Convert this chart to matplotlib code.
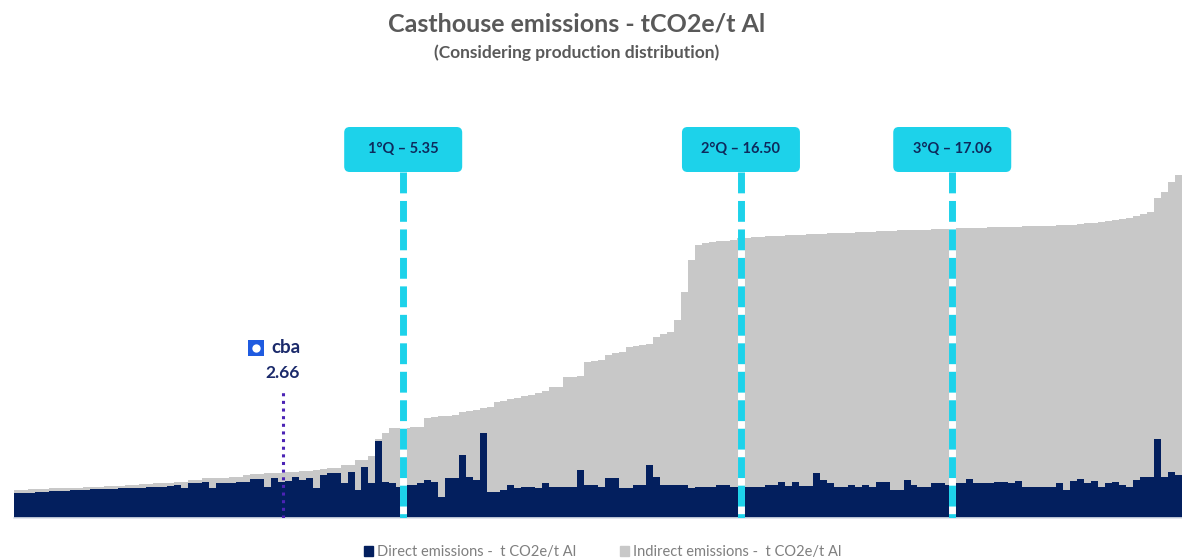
# -*- coding: utf-8 -*-
#
# Casthouse emissions curve, direct + indirect, sorted by plant
#
import numpy as np
import matplotlib
matplotlib.use('Agg')
import matplotlib.pyplot as plt
from matplotlib.patches import Patch, FancyBboxPatch

plt.rcParams['font.family'] = ['Lato', 'DejaVu Sans']

# Direct emissions per plant (t CO2e/t Al), sorted by total
direct = [1.47, 1.47, 1.50, 1.53, 1.53, 1.56,
          1.59, 1.59, 1.62, 1.65, 1.65, 1.68, 1.68,
          1.71, 1.71, 1.74, 1.76, 1.76, 1.79, 1.82,
          1.82, 1.85, 1.88, 1.94, 1.76, 2.06, 2.06,
          2.12, 1.76, 2.06, 2.06, 2.06, 2.12, 2.12, 2.29, 2.29,
          1.82, 2.35, 2.12, 2.18, 2.41, 2.24, 2.35, 1.76, 2.53, 2.65,
          2.65, 2.06, 2.71, 1.65, 3.00, 2.06, 4.53, 2.12, 2.06, 1.82,
          1.94, 1.94, 2.06, 2.24, 2.12, 1.24, 2.35, 2.35, 3.71, 2.41, 2.24, 5.00,
          1.53, 1.53, 1.65, 1.94, 1.76, 1.82, 1.82, 1.76, 2.06, 1.82, 1.82, 1.82, 1.82,
          2.82, 1.94, 1.94, 1.82, 2.35, 2.35, 1.76, 1.76, 1.94, 1.94, 3.12, 2.41,
          1.94, 1.94, 1.94, 1.94, 1.76, 1.82, 1.82, 1.82, 1.94, 1.94, 1.82, 1.82,
          1.82, 1.82, 1.82, 1.94, 1.94, 2.12, 1.88, 2.12, 1.88, 1.88, 2.65, 2.24, 2.06,
          1.82, 1.82, 1.94, 1.82, 1.94, 1.82, 2.12, 2.12, 1.65, 1.65, 2.24, 1.94,
          1.82, 1.82, 2.06, 2.06,
          1.94, 2.06, 2.06, 2.29, 2.06, 2.06, 2.06, 2.12, 2.12, 2.06, 2.18,
          1.82, 1.82, 1.82, 1.82, 1.82,
          2.06, 1.65, 2.18, 2.29, 2.06, 2.18, 1.82, 2.06, 2.12, 1.94, 1.82, 2.24,
          2.41, 2.41, 4.65, 2.41, 2.71, 2.53]

# Total emissions per plant (direct + indirect)
total = [1.65, 1.65, 1.68, 1.71, 1.71, 1.74,
         1.74, 1.76, 1.76, 1.79, 1.82, 1.82, 1.85,
         1.88, 1.88, 1.91, 1.94, 1.97, 2.00, 2.00,
         2.03, 2.06, 2.06, 2.09, 2.12, 2.24, 2.24,
         2.35, 2.35, 2.38, 2.38, 2.41, 2.41, 2.53, 2.56, 2.59,
         2.62, 2.65, 2.65, 2.71, 2.71, 2.74, 2.76, 2.82, 2.88, 2.94,
         2.94, 3.12, 3.12, 3.41, 3.41, 3.65, 4.65, 5.00, 5.29, 5.29,
         5.29, 5.35, 5.35, 5.88, 5.94, 6.00, 6.00, 6.06, 6.24, 6.29, 6.35, 6.47,
         6.53, 6.82, 6.88, 7.00, 7.06, 7.18, 7.24, 7.35, 7.47, 7.71, 7.71, 8.29, 8.29,
         8.35, 9.18, 9.24, 9.29, 9.59, 9.71, 9.76, 10.06, 10.12, 10.18, 10.24, 10.65,
         10.82, 10.94, 11.65, 13.29, 15.18, 16.06, 16.18, 16.24, 16.29, 16.29, 16.35, 16.47,
         16.47, 16.53, 16.53, 16.56, 16.59, 16.59, 16.62, 16.65, 16.65, 16.68, 16.71, 16.71, 16.74,
         16.76, 16.76, 16.79, 16.82, 16.82, 16.85, 16.88, 16.88, 16.91, 16.94, 16.94, 16.94,
         16.97, 16.97, 17.00, 17.00,
         17.00, 17.03, 17.03, 17.06, 17.06, 17.06, 17.09, 17.09, 17.12, 17.12, 17.12,
         17.15, 17.15, 17.18, 17.18, 17.18,
         17.21, 17.24, 17.26, 17.29, 17.35, 17.38, 17.41, 17.47, 17.53, 17.59, 17.65, 17.76,
         17.88, 18.00, 18.82, 19.18, 19.76, 20.18]

# Quartiles (position along the production curve, value)
q_labels = ['1°Q – 5.35', '2°Q – 16.50', '3°Q – 17.06']
q_pos = [55.5, 104.1, 134.5]

# CBA marker
cba_pos = 38.2
cba_value = '2.66'

navy = '#031F5E'
grey = '#C8C8C8'
cyan = '#1DD2EA'
purple = '#4B23B5'

direct = np.array(direct)
total = np.array(total)
indirect = total - direct
idx = np.arange(len(direct))

fig = plt.figure(figsize=(11.82, 5.60), dpi=100)
ax = fig.add_axes([14/1182., 42/560., 1168/1182., 518/560.])

ax.bar(idx, direct, width=1.0, color=navy, linewidth=0, antialiased=False)
ax.bar(idx, indirect, bottom=direct, width=1.0, color=grey, linewidth=0,
       antialiased=False)

ax.set_xlim(-0.5, 167.56)
ax.set_ylim(0, 518/17.)
for s in ['top', 'left', 'right']:
    ax.spines[s].set_visible(False)
ax.spines['bottom'].set_color('#DDE2EA')
ax.spines['bottom'].set_linewidth(1.2)
ax.set_xticks([])
ax.set_yticks([])

# quartile lines + label boxes
box_bot = (518 - 172) / 17.
box_h = 45 / 17.
box_w = 118 / 6.95
for lab, xq in zip(q_labels, q_pos):
    ax.plot([xq, xq], [0, box_bot], color='white', lw=5, solid_capstyle='butt', zorder=3)
    ax.plot([xq, xq], [box_bot, 0], color=cyan, lw=5, dashes=(3, 1.1),
            dash_capstyle='butt', zorder=4)
    box = FancyBboxPatch((xq - box_w/2, box_bot), box_w, box_h,
                         boxstyle='round,pad=0,rounding_size=0.8',
                         mutation_aspect=6.95/17., facecolor=cyan,
                         edgecolor='none', zorder=5)
    ax.add_patch(box)
    ax.text(xq, box_bot + box_h/2, lab, ha='center', va='center',
            fontsize=10.5, fontweight='bold', color='#0E2A5C', zorder=6)

# cba
ax.plot([cba_pos, cba_pos], [0, (518 - 390) / 17.], color=purple, lw=2.2,
        linestyle=(0, (1, 1.5)), dash_capstyle='butt', zorder=4)
ax.text(cba_pos, (518 - 373) / 17., cba_value, ha='center', va='center',
        fontsize=12.5, fontweight='bold', color='#1B2A6B')
ax.plot(34.3, 10.0, marker='s', ms=11, mfc='#1F5BE0', mec='#1F5BE0', mew=0)
ax.plot(34.3, 10.0, marker='o', ms=6, mfc='white', mec='white', mew=0)
ax.text(36.5, 10.05, 'cba', ha='left', va='center', fontsize=13.5,
        fontweight='bold', color='#1B2A6B')

fig.text(0.488, 0.958, 'Casthouse emissions - tCO2e/t Al', ha='center', va='center',
         fontsize=18, fontweight='bold', color='#595959')
fig.text(0.488, 0.905, '(Considering production distribution)', ha='center',
         va='center', fontsize=12.5, fontweight='bold', color='#595959')

handles = [Patch(color=navy), Patch(color=grey)]
leg = fig.legend(handles, ['Direct emissions -  t CO2e/t Al',
                           'Indirect emissions -  t CO2e/t Al'],
                 loc='center', bbox_to_anchor=(0.51, 0.014), ncol=2,
                 frameon=False, fontsize=10.5, handlelength=0.6,
                 handleheight=0.6, handletextpad=0.3, columnspacing=3)
for t in leg.get_texts():
    t.set_color('#7F7F7F')

fig.savefig('out.png', dpi=100)
